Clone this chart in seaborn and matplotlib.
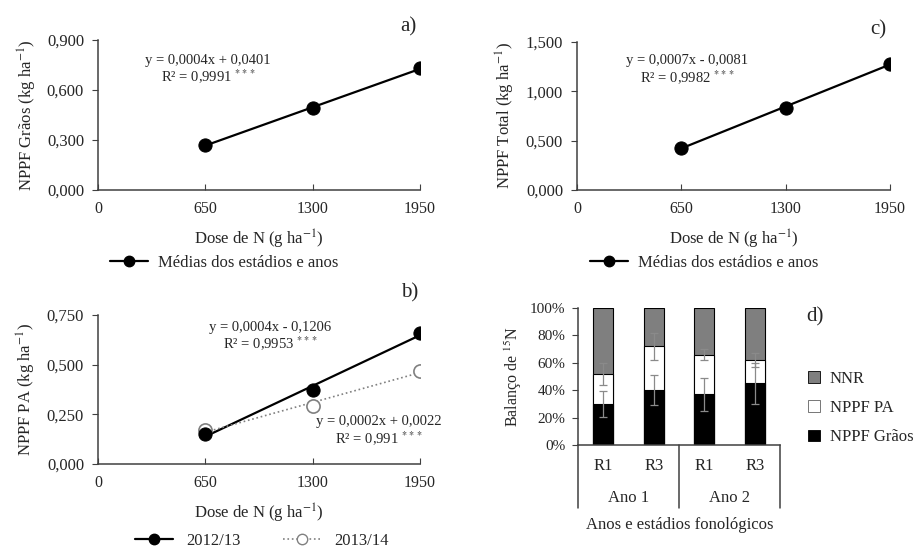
import numpy as np
import pandas as pd
import matplotlib
matplotlib.use('Agg')
import matplotlib.pyplot as plt
import seaborn as sns
from matplotlib.lines import Line2D
from matplotlib.patches import Patch
from matplotlib.ticker import FuncFormatter, MultipleLocator

# --- dados ---
dose = [650, 1300, 1950]
graos_media = [0.27, 0.49, 0.73]          # a) NPPF Grãos
total_media = [0.43, 0.83, 1.28]          # c) NPPF Total
pa_2012 = [0.15, 0.37, 0.66]              # b) 2012/13
pa_2013 = [0.17, 0.29, 0.47]              # b) 2013/14

categorias = ['R1', 'R3', 'R1', 'R3']
anos = ['Ano 1', 'Ano 2']
bal_graos = [30, 40, 37, 45]
bal_pa = [22, 32, 29, 17]
bal_nnr = [48, 28, 34, 38]
err_graos = [9.5, 11, 12, 15]
err_pa = [8, 10, 4, 5]

sns.set_style('ticks')
plt.rcParams['font.family'] = ['Liberation Serif', 'DejaVu Serif']
plt.rcParams['mathtext.fontset'] = 'stix'

W, H = 919, 548
fig = plt.figure(figsize=(W / 100, H / 100), dpi=100)
fig.patch.set_facecolor('white')


def caixa(x0, y0, x1, y1):
    # pixels -> fração da figura
    return [x0 / W, 1 - y1 / H, (x1 - x0) / W, (y1 - y0) / H]


def fmt3(v, pos):
    return f'{v:.3f}'.replace('.', ',')


def estilo_linha(ax, ymax, ystep, ylabel):
    ax.set_xlim(0, 1950)
    ax.set_ylim(0, ymax)
    ax.set_xticks([0, 650, 1300, 1950])
    ax.yaxis.set_major_locator(MultipleLocator(ystep))
    ax.yaxis.set_major_formatter(FuncFormatter(fmt3))
    for s in ['top', 'right']:
        ax.spines[s].set_visible(False)
    for s in ['left', 'bottom']:
        ax.spines[s].set_color('#404040')
        ax.spines[s].set_linewidth(1.1)
    ax.tick_params(axis='y', direction='out', length=4, labelsize=12, pad=6, color='#404040')
    ax.tick_params(axis='x', direction='in', length=4, labelsize=11.5, pad=8, color='#404040')
    ax.set_xlabel(r'Dose de N (g ha$^{-1}$)', fontsize=12, labelpad=8)
    ax.set_ylabel(ylabel, fontsize=12, labelpad=6)


# ---------------- a) ----------------
ax_a = fig.add_axes(caixa(98, 40, 420, 190))
sns.regplot(x=dose, y=graos_media, ax=ax_a, scatter=False, ci=None, truncate=True,
            line_kws=dict(color='black', lw=1.6))
sns.scatterplot(x=dose, y=graos_media, ax=ax_a, s=90, color='black', edgecolor='black', zorder=3)
estilo_linha(ax_a, 0.9, 0.3, r'NPPF Grãos (kg ha$^{-1}$)')
ax_a.text(666, 0.72, 'y = 0,0004x + 0,0401\nR² = 0,9991 $^{***}$', ha='center', va='center',
          fontsize=10.5, linespacing=1.1)
fig.text(408 / W, 1 - 27 / H, 'a)', fontsize=15, ha='center', va='center')
ax_a.legend([Line2D([], [], color='black', lw=1.6, marker='o', markersize=7.5)],
            ['Médias dos estádios e anos'], loc='center left', frameon=False,
            bbox_to_anchor=(110 / W, 1 - 263 / H), bbox_transform=fig.transFigure,
            borderpad=0, borderaxespad=0, handlelength=2.3, handletextpad=0.6, fontsize=12)

# ---------------- c) ----------------
ax_c = fig.add_axes(caixa(577, 42, 890, 190))
sns.regplot(x=dose, y=total_media, ax=ax_c, scatter=False, ci=None, truncate=True,
            line_kws=dict(color='black', lw=1.6))
sns.scatterplot(x=dose, y=total_media, ax=ax_c, s=90, color='black', edgecolor='black', zorder=3)
estilo_linha(ax_c, 1.5, 0.5, r'NPPF Total (kg ha$^{-1}$)')
ax_c.text(687, 1.21, 'y = 0,0007x - 0,0081\nR² = 0,9982 $^{***}$', ha='center', va='center',
          fontsize=10.5, linespacing=1.1)
fig.text(878 / W, 1 - 30 / H, 'c)', fontsize=15, ha='center', va='center')
ax_c.legend([Line2D([], [], color='black', lw=1.6, marker='o', markersize=7.5)],
            ['Médias dos estádios e anos'], loc='center left', frameon=False,
            bbox_to_anchor=(590 / W, 1 - 263 / H), bbox_transform=fig.transFigure,
            borderpad=0, borderaxespad=0, handlelength=2.3, handletextpad=0.6, fontsize=12)

# ---------------- b) ----------------
ax_b = fig.add_axes(caixa(98, 315, 420, 464))
sns.regplot(x=dose, y=pa_2012, ax=ax_b, scatter=False, ci=None, truncate=True,
            line_kws=dict(color='black', lw=1.6))
sns.regplot(x=dose, y=pa_2013, ax=ax_b, scatter=False, ci=None, truncate=True,
            line_kws=dict(color='#808080', lw=1.2, ls=':'))
sns.scatterplot(x=dose, y=pa_2013, ax=ax_b, s=90, color='white', edgecolor='#808080',
                linewidth=1.2, zorder=3)
sns.scatterplot(x=dose, y=pa_2012, ax=ax_b, s=90, color='black', edgecolor='black', zorder=4)
estilo_linha(ax_b, 0.75, 0.25, r'NPPF PA (kg ha$^{-1}$)')
ax_b.text(1045, 0.64, 'y = 0,0004x - 0,1206\nR² = 0,9953 $^{***}$', ha='center', va='center',
          fontsize=10.5, linespacing=1.1)
ax_b.text(1700, 0.165, 'y = 0,0002x + 0,0022\nR² = 0,991 $^{***}$', ha='center', va='center',
          fontsize=10.5, linespacing=1.1)
fig.text(410 / W, 1 - 293 / H, 'b)', fontsize=15, ha='center', va='center')
ax_b.legend([Line2D([], [], color='black', lw=1.6, marker='o', markersize=7.5),
             Line2D([], [], color='#808080', lw=1.2, ls=':', marker='o', markersize=7.5,
                    markerfacecolor='white', markeredgecolor='#808080')],
            ['2012/13', '2013/14'], loc='center left', frameon=False, ncol=2,
            bbox_to_anchor=(135 / W, 1 - 541 / H), bbox_transform=fig.transFigure,
            borderpad=0, borderaxespad=0, handlelength=2.3, handletextpad=0.8,
            columnspacing=2.5, fontsize=12)

# ---------------- d) ----------------
ax_d = fig.add_axes(caixa(578, 308, 780, 445))
ordem = ['Ano 1 R1', 'Ano 1 R3', 'Ano 2 R1', 'Ano 2 R3']
df = pd.DataFrame({'cat': ordem, 'graos': bal_graos, 'pa': bal_pa, 'nnr': bal_nnr})
df['topo_pa'] = df['graos'] + df['pa']
df['topo_nnr'] = df['topo_pa'] + df['nnr']
for col, cor in [('topo_nnr', '#7f7f7f'), ('topo_pa', 'white'), ('graos', 'black')]:
    sns.barplot(data=df, x='cat', y=col, order=ordem, color=cor, width=0.4,
                edgecolor='black', linewidth=0.8, saturation=1, ax=ax_d)
ax_d.errorbar(range(4), df['graos'], yerr=err_graos, fmt='none', ecolor='#8a8a8a',
              elinewidth=0.9, capsize=3, capthick=0.9, zorder=5)
ax_d.errorbar(range(4), df['topo_pa'], yerr=err_pa, fmt='none', ecolor='#8a8a8a',
              elinewidth=0.9, capsize=3, capthick=0.9, zorder=5)
ax_d.set_xlim(-0.5, 3.5)
ax_d.set_ylim(0, 100)
ax_d.yaxis.set_major_locator(MultipleLocator(20))
ax_d.yaxis.set_major_formatter(FuncFormatter(lambda v, p: f'{v:.0f}%'))
ax_d.set_xticks(range(4))
ax_d.set_xticklabels(categorias)
ax_d.tick_params(axis='x', length=0, labelsize=12, pad=9)
ax_d.tick_params(axis='y', direction='out', length=4, labelsize=11, pad=5, color='#404040')
for s in ['top', 'right']:
    ax_d.spines[s].set_visible(False)
for s in ['left', 'bottom']:
    ax_d.spines[s].set_color('#404040')
    ax_d.spines[s].set_linewidth(1.1)
ax_d.set_xlabel('')
ax_d.set_ylabel(r'Balanço de $^{15}$N', fontsize=11.5, labelpad=4)
trans = ax_d.get_xaxis_transform()
for xv in [-0.5, 1.5, 3.5]:
    ax_d.plot([xv, xv], [0, -0.46], color='#404040', lw=1.1, transform=trans, clip_on=False)
for i, ano in enumerate(anos):
    ax_d.text(0.5 + 2 * i, -0.39, ano, ha='center', va='center', fontsize=12, transform=trans)
fig.text(680 / W, 1 - 525 / H, 'Anos e estádios fonológicos', ha='center', va='center', fontsize=12)
fig.text(815 / W, 1 - 317 / H, 'd)', fontsize=15, ha='center', va='center')
ax_d.legend([Patch(facecolor='#7f7f7f', edgecolor='black', lw=0.6),
             Patch(facecolor='white', edgecolor='#606060', lw=0.6),
             Patch(facecolor='black', edgecolor='black', lw=0.6)],
            ['NNR', 'NPPF PA', 'NPPF Grãos'], loc='center left', frameon=False,
            bbox_to_anchor=(808 / W, 1 - 408 / H), bbox_transform=fig.transFigure,
            borderpad=0, borderaxespad=0, handlelength=0.7, handleheight=0.7,
            handletextpad=0.6, labelspacing=0.8, fontsize=12)

fig.savefig('out.png', dpi=100, facecolor='white')
